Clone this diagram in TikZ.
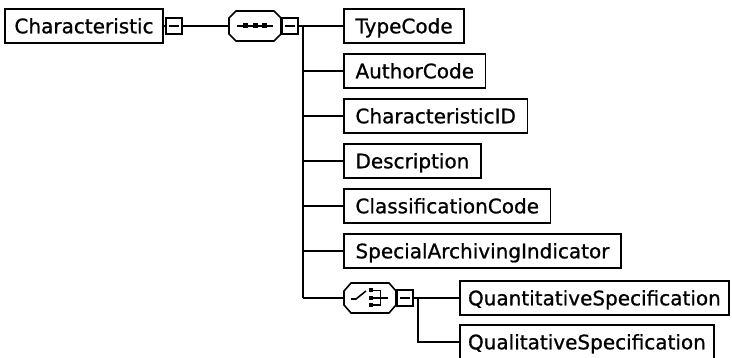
\documentclass[tikz,border=0pt]{standalone}
\usepackage{fontspec}
\setmainfont{DejaVu Sans}
\newfontfamily\lblfont{DejaVu Sans}[FakeBold=0.9]
\begin{document}
\begin{tikzpicture}[x=1pt,y=-1pt,line width=1.6pt,
  every node/.style={outer sep=0pt},
  leaf/.style={draw, anchor=west, inner xsep=11.5pt, inner ysep=0pt,
    minimum height=34pt, text height=14.6pt, text depth=0pt,
    font=\lblfont\fontsize{20}{22}\selectfont},
  minusbox/.style={draw, minimum size=16pt, inner sep=0pt},
  compo/.style={minimum width=#1, minimum height=30pt, inner sep=0pt}]
\useasboundingbox (0,0) rectangle (732,358);

% root
\node[leaf, inner xsep=9.5pt] (root) at (5,26) {Characteristic};
\node[minusbox] (m1) at (174,26) {};
\draw ([xshift=3pt]m1.west) -- ([xshift=-3pt]m1.east);

% sequence compositor
\node[compo=52pt] (seq) at (255,26) {};
\draw ([xshift=7pt]seq.north west) -- ([xshift=-7pt]seq.north east)
  -- ([yshift=-7pt]seq.north east) -- ([yshift=7pt]seq.south east)
  -- ([xshift=-7pt]seq.south east) -- ([xshift=7pt]seq.south west)
  -- ([yshift=7pt]seq.south west) -- ([yshift=-7pt]seq.north west) -- cycle;
\begin{scope}[shift={(seq.center)}]
  \draw (-18,0) -- (18,0);
  \fill (-12,-2.5) rectangle (-7,2.5);
  \fill (-2.5,-2.5) rectangle (2.5,2.5);
  \fill (7,-2.5) rectangle (12,2.5);
\end{scope}
\node[minusbox] (m2) at (290,26) {};
\draw ([xshift=3pt]m2.west) -- ([xshift=-3pt]m2.east);

% children
\node[leaf] (tc) at (344,26) {TypeCode};
\node[leaf] (ac) at (344,71) {AuthorCode};
\node[leaf] (cid) at (344,116) {CharacteristicID};
\node[leaf] (desc) at (344,161) {Description};
\node[leaf] (cc) at (344,206) {ClassificationCode};
\node[leaf] (sai) at (344,251) {SpecialArchivingIndicator};

% choice compositor
\node[compo=52pt] (cho) at (370,298) {};
\draw ([xshift=7pt]cho.north west) -- ([xshift=-7pt]cho.north east)
  -- ([yshift=-8pt]cho.north east) -- ([yshift=8pt]cho.south east)
  -- ([xshift=-7pt]cho.south east) -- ([xshift=7pt]cho.south west)
  -- ([yshift=8pt]cho.south west) -- ([yshift=-8pt]cho.north west) -- cycle;
\begin{scope}[shift={(cho.center)}]
  \draw (-19,1) -- (-14,1) -- (-4,-7);
  \draw (0.5,-7.5) -- (10.5,-7.5) -- (10.5,7) -- (0.5,7);
  \draw (0.5,0) -- (18,0);
  \fill (-1.5,-10) rectangle (2.5,-5.5);
  \fill (-1.5,-2.2) rectangle (2.5,2.2);
  \fill (-1.5,5) rectangle (2.5,9.5);
\end{scope}
\node[minusbox] (m3) at (405,298) {};
\draw ([xshift=3pt]m3.west) -- ([xshift=-3pt]m3.east);

\node[leaf, inner xsep=8pt] (qn) at (460,298) {QuantitativeSpecification};
\node[leaf, inner xsep=8pt] (ql) at (460,342) {QualitativeSpecification};

% connectors
\draw (root.east) -- (m1.west);
\draw (m1.east) -- (seq.west);
\draw (m2.east) -- (tc.west);
\coordinate (vtop) at (303,26);
\coordinate (vbot) at (303,298);
\draw (vtop) -- (vbot);
\draw (vtop |- ac.west) -- (ac.west);
\draw (vtop |- cid.west) -- (cid.west);
\draw (vtop |- desc.west) -- (desc.west);
\draw (vtop |- cc.west) -- (cc.west);
\draw (vtop |- sai.west) -- (sai.west);
\draw (vbot) -- (cho.west);
\draw (m3.east) -- (qn.west);
\coordinate (v2) at (418,298);
\draw (v2) |- (ql.west);
\end{tikzpicture}
\end{document}
